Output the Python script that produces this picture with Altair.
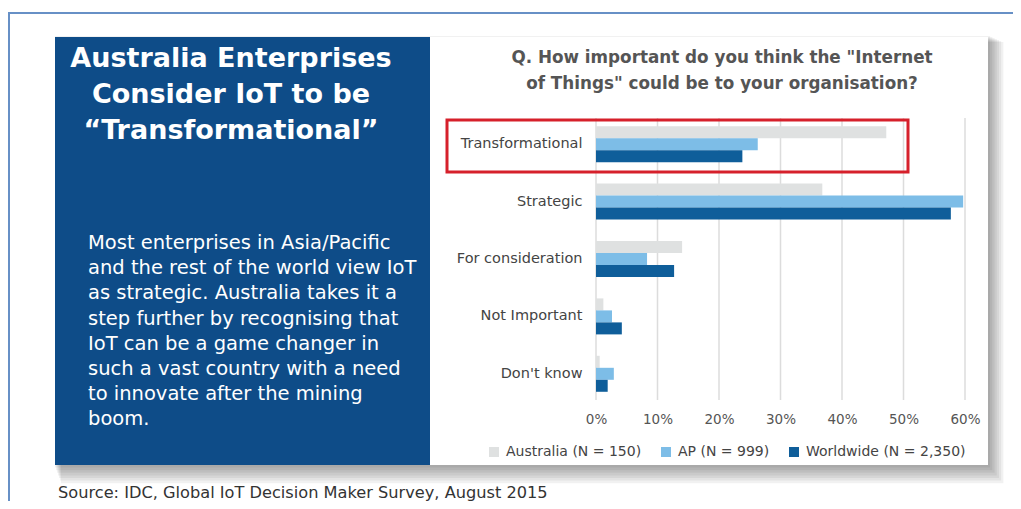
import altair as alt
import pandas as pd

categories = ["Transformational", "Strategic", "For consideration", "Not Important", "Don't know"]
series = ["Australia (N = 150)", "AP (N = 999)", "Worldwide (N = 2,350)"]
australia = [0.472, 0.368, 0.140, 0.012, 0.006]
ap = [0.263, 0.597, 0.083, 0.026, 0.029]
worldwide = [0.238, 0.577, 0.127, 0.042, 0.019]
ticks = [0, 0.1, 0.2, 0.3, 0.4, 0.5, 0.6]
colors = ["#dfe1e1", "#7dbde7", "#0f5e9a"]

title_lines = ["Australia Enterprises", "Consider IoT to be", "\u201cTransformational\u201d"]
body_lines = [
    "Most enterprises in Asia/Pacific",
    "and the rest of the world view IoT",
    "as strategic. Australia takes it a",
    "step further by recognising that",
    "IoT can be a game changer  in",
    "such a vast country with a need",
    "to innovate after the mining",
    "boom.",
]
question_lines = ['Q. How important do you think the "Internet',
                  'of Things" could be to your organisation?']
source_text = "Source: IDC, Global IoT Decision Maker Survey, August 2015"

FONT = "DejaVu Sans"
# plot origin on page: (596, 118)
OX, OY = 596, 118


def px(v):
    return v - OX


def py(v):
    return v - OY


rows = []
for i, c in enumerate(categories):
    rows.append({"category": c, "series": series[0], "value": australia[i]})
    rows.append({"category": c, "series": series[1], "value": ap[i]})
    rows.append({"category": c, "series": series[2], "value": worldwide[i]})
bars_df = pd.DataFrame(rows)
ticks_df = pd.DataFrame({"tick": ticks})
one = pd.DataFrame({"k": [0]})


def rect(x1, x2, y1, y2, **kw):
    return alt.Chart(one).mark_rect(**kw).encode(
        x=alt.value(px(x1)), x2=alt.value(px(x2)),
        y=alt.value(py(y1)), y2=alt.value(py(y2)))


# shadow of card
shadow_layers = []
for i in range(1, 8):
    shadow_layers.append(rect(55 - 1 + i, 988 + 2.2 * i, 37 - 2 + i, 465 + 2.6 * i,
                              color="#000000", opacity=0.055))

card = rect(55, 988, 37, 465, color="#ffffff")
panel = rect(55, 430, 37, 465, color="#0e4c88")
frame_top = rect(8, 1013, 12, 14, color="#6790c6")
frame_left = rect(8, 10, 12, 501, color="#6790c6")

grid = alt.Chart(ticks_df).mark_rule(color="#dcdcdc", strokeWidth=1.5).encode(
    x=alt.X("tick:Q"))

bars = alt.Chart(bars_df).mark_bar().encode(
    x=alt.X("value:Q",
            scale=alt.Scale(domain=[0, 0.6], nice=False),
            axis=alt.Axis(values=ticks, format=".0%", title=None, grid=False,
                          domain=False, ticks=False, labelPadding=12, zindex=1,
                          labelFlush=False, labelOverlap=False,
                          labelFont=FONT, labelFontSize=13.5, labelColor="#555555")),
    y=alt.Y("category:N", sort=categories,
            scale=alt.Scale(domain=categories, paddingInner=0.373, paddingOuter=0.143),
            axis=alt.Axis(title=None, domain=False, ticks=False, labelPadding=14, zindex=1,
                          labelFont=FONT, labelFontSize=14.5, labelColor="#444444")),
    yOffset=alt.YOffset("series:N", sort=series,
                        scale=alt.Scale(domain=series, paddingInner=0, paddingOuter=0)),
    color=alt.Color("series:N",
                    scale=alt.Scale(domain=series, range=colors),
                    legend=alt.Legend(orient="none", legendX=-109, legendY=327,
                                      direction="horizontal", title=None,
                                      symbolType="square", symbolSize=100,
                                      symbolStrokeWidth=0, labelFont=FONT,
                                      labelFontSize=14, labelColor="#444444",
                                      columnPadding=17, labelOffset=5, padding=0)),
)

red_box = alt.Chart(one).mark_rect(fill=None, stroke="#d6202b", strokeWidth=3).encode(
    x=alt.value(px(447)), x2=alt.value(px(908)),
    y=alt.value(py(120)), y2=alt.value(py(172)))

title_txt = alt.Chart(one).mark_text(
    text=title_lines, font=FONT, fontSize=27, fontWeight="bold", color="#ffffff",
    align="center", baseline="alphabetic", lineHeight=36).encode(
    x=alt.value(px(231)), y=alt.value(py(67)))

body_txt = alt.Chart(one).mark_text(
    text=body_lines, font=FONT, fontSize=19.5, color="#ffffff",
    align="left", baseline="alphabetic", lineHeight=25.2).encode(
    x=alt.value(px(88)), y=alt.value(py(249)))

question_txt = alt.Chart(one).mark_text(
    text=question_lines, font=FONT, fontSize=16.8, fontWeight="bold", color="#555555",
    align="center", baseline="alphabetic", lineHeight=26).encode(
    x=alt.value(px(722)), y=alt.value(py(63)))

source_txt = alt.Chart(one).mark_text(
    text=source_text, font=FONT, fontSize=16.2, color="#333333",
    align="left", baseline="alphabetic").encode(
    x=alt.value(px(58)), y=alt.value(py(498)))

chart = alt.layer(
    *shadow_layers, card, panel, frame_top, frame_left, grid, bars, red_box,
    title_txt, body_txt, question_txt, source_txt
).properties(
    width=369, height=282,
    autosize=alt.AutoSizeParams(type="none"),
    padding={"left": 588, "top": 110, "right": 48, "bottom": 101},
    background="#ffffff",
).configure_view(stroke=None)

chart.save("out.html", embed_options={"renderer": "svg", "actions": False})
